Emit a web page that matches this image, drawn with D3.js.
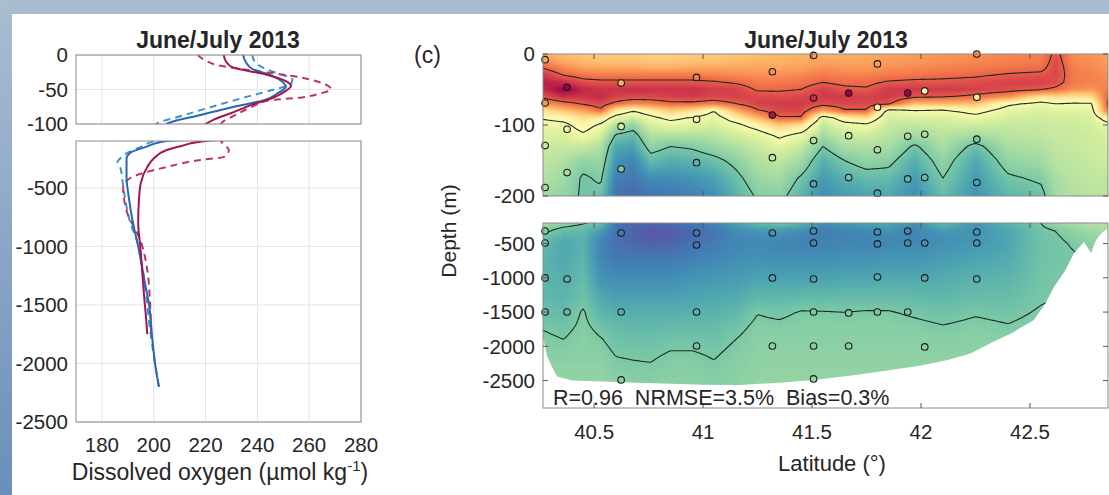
<!DOCTYPE html>
<html>
<head>
<meta charset="utf-8">
<script src="https://cdn.jsdelivr.net/npm/d3@7"></script>
<style>
body{margin:0;background:#fff}
svg{display:block}
text{font-family:"Liberation Sans",Arial,Helvetica,sans-serif;fill:#262626}
</style>
</head>
<body>
<svg id="fig" width="1109" height="495"></svg>
<script>
// ---------- left panel: oxygen profiles (depth in m, O2 in umol/kg)
var blueSolidDepth = [0,-10,-20,-30,-40,-46,-55,-65,-75,-87,-100,-150,-200,-250,-400,-600,-800,-1000,-1300,-1500,-1800,-2000,-2200]
var blueSolidVal   = [234.5,235.5,238,245.5,250,251,248,243,231,218,205,197,191,189.5,189.5,190.5,192,194,196.5,198.2,199.5,200.5,202]

var blueDashDepth = [0,-10,-18,-27,-35,-42,-50,-60,-75,-88,-100,-150,-200,-250,-280,-320,-450,-600,-800,-950,-1100,-1400,-1700,-2000,-2200]
var blueDashVal   = [238,239,242,248,253.5,253,246.5,236.5,222.5,211,201,195,190,187,186,187,188,189,191,193.5,195,197,198.5,200.5,202]

var redSolidDepth = [0,-10,-18,-28,-38,-45,-52,-62,-72,-84,-94,-100,-140,-177,-250,-322,-460,-600,-800,-1000,-1200,-1430,-1600,-1750]
var redSolidVal   = [227,228,230.5,243,251,253,251,246,238,230,223,220,211,205,200,197.5,195,194.3,194,194.8,195.5,196.3,197,197.5]

var redDashDepth = [0,-8,-15,-22,-30,-40,-50,-56,-62,-66,-75,-88,-100,-177,-237,-262,-322,-416,-493,-715,-945,-1200,-1450,-1750]
var redDashVal   = [217,220,225,237,253,264.5,268.5,264,256,244,238,231,226,229,227,218,205,191,188.2,189.8,194.8,197.5,198.5,199]

var o2Ticks = [180,200,220,240,260,280]
var profUpperTicks = [0,-50,-100]
var profLowerTicks = [-500,-1000,-1500,-2000,-2500]

// ---------- right panel: section (one row per latitude, one value per depth level)
var fieldLat = [40.2655,40.36,40.45,40.53,40.60,40.68,40.76,40.85,40.95,41.05,41.15,41.25,41.35,41.45,41.55,41.65,41.75,41.85,41.97,42.10,42.25,42.40,42.55,42.62,42.70,42.78,42.865]

var upperDepth = [0,-10,-20,-30,-40,-50,-60,-70,-80,-90,-100,-115,-130,-150,-175,-200]
var upperField = [
 [238,244,250,257,260,258,252,242,230,221,216,213,211,209,207,205],
 [236,239,244,250,258,264,258,247,235,224,217,213,210,207,205,203],
 [235,237,241,247,253,259,257,251,240,231,225,218,210,203,199,199],
 [234,236,240,246,252,257,258,254,248,228,218,212,207,204,201,198],
 [234,236,240,246,252,257,255,248,228,215,207,199,194,191,188,186],
 [234,236,240,246,252,258,254,244,220,211,203,197,193,189,187,185],
 [233,235,239,246,252,257,254,245,227,217,212,207,203,197,190,186],
 [233,235,239,246,252,257,255,248,234,223,215,207,200,195,190,187],
 [234,236,240,246,252,257,256,248,231,219,214,207,201,196,191,188],
 [234,236,240,245,251,256,254,246,220,215,212,208,204,198,193,190],
 [235,237,240,244,249,255,255,250,238,226,217,211,207,202,198,195],
 [236,238,240,243,246,249,254,255,249,237,225,214,210,207,204,201],
 [237,238,240,243,246,249,253,256,254,249,235,222,214,209,205,202],
 [238,239,241,244,247,250,254,256,254,249,230,216,210,205,199,196],
 [238,240,243,246,250,255,256,253,240,214,209,205,200,195,192,190],
 [239,240,242,245,248,252,256,254,249,226,216,210,206,200,195,192],
 [239,240,242,245,248,251,255,254,249,230,218,211,207,203,197,193],
 [240,241,243,246,251,256,256,252,215,212,210,208,206,202,197,194],
 [241,242,244,247,252,256,252,236,219,213,209,205,199,195,192,190],
 [242,243,245,248,252,256,251,237,218,213,211,208,206,203,200,197],
 [243,244,246,249,253,255,248,236,224,216,211,205,198,194,192,191],
 [244,245,247,251,255,253,243,222,215,212,210,208,206,203,199,196],
 [245,246,248,252,255,251,230,217,213,211,210,209,207,205,201,198],
 [252,253,254,254,253,248,232,220,214,212,211,210,209,208,206,205],
 [243,244,245,246,246,243,230,219,214,212,211,210,210,209,208,207],
 [242,243,244,245,245,242,231,219,215,213,212,211,211,210,209,208],
 [240,241,242,243,244,246,251,254,251,228,216,213,212,211,209,208]
]

var lowerDepth = [-200,-300,-400,-500,-700,-1000,-1300,-1500,-1700,-1900,-2200,-2500,-2900]
var lowerField = [
 [205,202,199,197,196,196,197,198,199.5,201,202,203,203],
 [203,198,195,194,194,195,196,197,198.5,200,202,203,203],
 [200.5,197,196,195.5,196,197,198.5,200.5,201,202,202,203,203],
 [198,193,190,189,189,191,194,196,198.5,200.3,202,203,203],
 [186,186,186,186,187,190,193,195,197,198.5,200.3,202,202],
 [185,184,184,185,187,190,193,195,196.5,198,200,201.5,202],
 [185,182.5,182.5,184,187,190,193,195,196.5,198,199.8,201.5,202],
 [186,183,183,184.5,187,190,193,195,197,198.8,201,202,202],
 [187,185,185,186,188,191,193.5,195.5,197,198.8,201,202,202],
 [189,187,187,187.5,189,191.5,194,195.5,197,198.5,200,201.5,202],
 [193,190,189,189,190,192,194.5,196.5,198.5,200,201.5,202,202],
 [197,192,190,189.5,190.5,193,196.5,199.8,201,202,202.5,203,203],
 [199,192,190,189,190,193,196.5,199,200.8,202,202.5,203,203],
 [196,191,189,188.5,190,193,197,200.3,201.5,202,202.5,203,203],
 [190,188,188,188.5,190,193,197,200.2,201.5,202,202.5,203,203],
 [192,189,188.5,189,190.5,193.5,197.5,200,201.5,202,202.5,203,203],
 [193,190,189,189,190.5,193.5,197.5,200.3,201.5,202,202.5,203,203],
 [194,191,189.5,189.5,191,194,197.5,200.3,201.5,202,202.5,203,203],
 [190,189,189,189.5,191,194,197,199.3,201,202,202.5,203,203],
 [197,192,190.5,190.5,192,194.5,196.5,198.3,200.1,201.5,202.5,203,203],
 [191,191,191,191.5,193,195.5,197.5,199.5,201,202,202.5,203,203],
 [196,194,193.5,193.5,194.5,196,197.5,198.8,200.2,201.5,202.5,203,203],
 [200,199,198.5,198.5,198.5,198.8,199.5,200.5,201.5,202,202.5,203,203],
 [204,200.2,199.5,199,199,199.5,200,201,202,202,202.5,203,203],
 [206,203,201.5,200.5,199.5,200,200.5,201,202,202,202.5,203,203],
 [207,205,203,202,201,201,201,201.5,202,202,202.5,203,203],
 [208,206,204,203,202,202,202,202,202,202,202.5,203,203]
]

var bathyLat   = [40.2655,40.285,40.307,40.33,40.40,40.7,41.0,41.17,41.35,41.507,41.7,41.861,42.0,42.123,42.23,42.32,42.42,42.518,42.57,42.61,42.66,42.702,42.748,42.765,42.78,42.80,42.813,42.835,42.865]
var bathyDepth = [-1870,-2150,-2300,-2440,-2500,-2530,-2560,-2565,-2530,-2490,-2420,-2345,-2280,-2200,-2100,-1950,-1800,-1615,-1380,-1134,-900,-640,-477,-560,-640,-470,-404,-330,-260]

// station: latitude, depth, observed O2
var stations = [
 [40.275,-8,240],[40.275,-69,242],[40.275,-129,211],[40.275,-188,206],
 [40.376,-47,270],[40.376,-106,216],[40.376,-167,206],
 [40.624,-41,238],[40.624,-102,212],[40.624,-162,200],
 [40.97,-33,246],[40.97,-92,218],[40.97,-153,196],
 [41.318,-25,243],[41.318,-86,262],[41.318,-146,210],
 [41.507,-2,240],[41.507,-62,258],[41.507,-122,207],[41.507,-183,194],
 [41.668,-55,265],[41.668,-115,210],[41.668,-174,198],
 [41.80,-14,241],[41.80,-75,226],[41.80,-135,206],[41.80,-196,194],
 [41.939,-55,265],[41.939,-116,206],[41.939,-176,196],
 [42.017,-52,226],[42.017,-113,207],[42.017,-174,197],
 [42.256,0,243],[42.256,-61,228],[42.256,-120,200],[42.256,-181,193],
 [40.275,-317,200],[40.275,-492,198],[40.275,-1002,197],[40.376,-1017,196],[40.275,-1499,198],[40.376,-1499,197],
 [40.624,-346,187],[40.624,-1499,195],[40.624,-2490,202],
 [40.97,-346,186],[40.97,-521,186],[40.97,-1499,195],[40.97,-1995,199],
 [41.318,-346,191],[41.318,-1002,193],[41.318,-1995,202],
 [41.507,-317,190],[41.507,-492,189],[41.507,-1017,193],[41.507,-1499,200],[41.507,-1995,202],[41.507,-2476,203],
 [41.668,-1513,200],[41.668,-1995,202],
 [41.80,-331,190],[41.80,-506,189],[41.80,-988,194],[41.80,-1499,200],
 [41.939,-317,189],[41.939,-492,190],[41.939,-1499,199],
 [42.017,-492,190],[42.017,-1002,194],[42.017,-2009,202],
 [42.256,-331,191],[42.256,-492,191],[42.256,-1017,195]
]

var contourLevels = [200,220,250]
var latTicks = [40.5,41,41.5,42,42.5]
var secUpperTicks = [0,-100,-200]
var secLowerTicks = [-500,-1000,-1500,-2000,-2500]

// ---------- figure
var svg = d3.select("#fig")
var defs = svg.append("defs")
var grad = defs.append("linearGradient").attr("id","side").attr("x1",0).attr("x2",0).attr("y1",0).attr("y2",1)
grad.append("stop").attr("offset",0).attr("stop-color","#aabdd1")
grad.append("stop").attr("offset",1).attr("stop-color","#6a8fbb")
svg.append("rect").attr("width",1109).attr("height",495).attr("fill","#fff")
svg.append("rect").attr("width",1109).attr("height",14).attr("fill","#a8bbcf")
svg.append("rect").attr("width",12).attr("height",495).attr("fill","url(#side)")

function clip(id, x, y, w, h){
    defs.append("clipPath").attr("id",id).append("rect").attr("x",x).attr("y",y).attr("width",w).attr("height",h)
    return "url(#"+id+")"
}

// ---------- left panel
var xO = d3.scaleLinear().domain([170,280]).range([76,361])
var yLU = d3.scaleLinear().domain([0,-100]).range([55,124])
var yLL = d3.scaleLinear().domain([-100,-2500]).range([141,422])

var profiles = [
    {d: blueDashDepth, v: blueDashVal, color:"#3b95c9", dash:"7,5"},
    {d: redDashDepth,  v: redDashVal,  color:"#bf3467", dash:"7,5"},
    {d: blueSolidDepth, v: blueSolidVal, color:"#2a66b3", dash:null},
    {d: redSolidDepth,  v: redSolidVal,  color:"#a0174f", dash:null}
]

function profilePanel(y, ticks, id){
    var g = svg.append("g")
    var r = y.range()
    var cp = clip(id, 76, r[0], 361-76, r[1]-r[0])
    g.selectAll(".gx").data(o2Ticks).enter().append("line")
        .attr("x1", d=>xO(d)).attr("x2", d=>xO(d)).attr("y1", r[0]).attr("y2", r[1])
        .attr("stroke","#e4e4e4")
    g.selectAll(".gy").data(ticks).enter().append("line")
        .attr("x1", 76).attr("x2", 361).attr("y1", d=>y(d)).attr("y2", d=>y(d))
        .attr("stroke","#e4e4e4")
    var lg = g.append("g").attr("clip-path", cp)
    profiles.forEach(function(p){
        var pts = p.d.map((d,i)=>[p.v[i], d])
        var line = d3.line().x(d=>xO(d[0])).y(d=>y(d[1])).curve(d3.curveMonotoneY)
        lg.append("path").attr("d", line(pts)).attr("fill","none")
            .attr("stroke", p.color).attr("stroke-width",2)
            .attr("stroke-dasharray", p.dash)
    })
    g.append("rect").attr("x",76).attr("y",r[0]).attr("width",361-76).attr("height",r[1]-r[0])
        .attr("fill","none").attr("stroke","#8a8a8a")
    g.selectAll(".ty").data(ticks).enter().append("text")
        .attr("x",68).attr("y", d=>y(d)).attr("dy","0.35em").attr("text-anchor","end")
        .attr("font-size",20.5).text(d=>d)
}
profilePanel(yLU, profUpperTicks, "cpLU")
profilePanel(yLL, profLowerTicks, "cpLL")

svg.selectAll(".tx").data(o2Ticks).enter().append("text")
    .attr("x", d=>xO(d)).attr("y", 452).attr("text-anchor","middle")
    .attr("font-size",20.5).text(d=>d)
svg.append("text").attr("x",218).attr("y",48).attr("text-anchor","middle")
    .attr("font-size",23).attr("font-weight","bold").text("June/July 2013")
var xl = svg.append("text").attr("x",220).attr("y",480).attr("text-anchor","middle").attr("font-size",23)
xl.append("tspan").text("Dissolved oxygen (\u00b5mol kg")
xl.append("tspan").attr("dy",-9).attr("font-size",15).text("-1")
xl.append("tspan").attr("dy",9).text(")")

// ---------- right panel
var xLat = d3.scaleLinear().domain([40.2655,42.858]).range([543,1108])
var yRU = d3.scaleLinear().domain([0,-200]).range([54,196])
var yRL = d3.scaleLinear().domain([-200,-2900]).range([223,408])

var vMin = 181, vMax = 264
var lut = d3.range(0,1001).map(k => d3.rgb(d3.interpolateSpectral(1 - k/1000)))
function colorOf(v){
    var k = Math.round(Math.max(0, Math.min(1, (v-vMin)/(vMax-vMin)))*1000)
    return lut[k]
}

function makeSampler(depths, field){
    var nd = depths.map(d => -d)
    return function(lat, depth){
        var i = Math.max(0, Math.min(fieldLat.length-2, d3.bisectRight(fieldLat, lat)-1))
        var tx = Math.max(0, Math.min(1, (lat-fieldLat[i])/(fieldLat[i+1]-fieldLat[i])))
        var j = Math.max(0, Math.min(nd.length-2, d3.bisectRight(nd, -depth)-1))
        var ty = Math.max(0, Math.min(1, (-depth-nd[j])/(nd[j+1]-nd[j])))
        var a = field[i][j], b = field[i+1][j], c = field[i][j+1], e = field[i+1][j+1]
        return (a*(1-tx)+b*tx)*(1-ty) + (c*(1-tx)+e*tx)*ty
    }
}

function sectionPanel(depths, field, y, ticks, id, isLower){
    var g = svg.append("g")
    var x0 = 543, x1 = 1108, y0 = y.range()[0], y1 = y.range()[1]
    var w = x1-x0, h = y1-y0
    var cp = clip(id, x0, y0, w, h)
    var f = makeSampler(depths, field)

    var cv = document.createElement("canvas")
    cv.width = w; cv.height = h
    var ctx = cv.getContext("2d")
    var img = ctx.createImageData(w, h)
    for (let px=0; px<w; px++){
        var lat = xLat.invert(x0+px+0.5)
        for (let py=0; py<h; py++){
            var c = colorOf(f(lat, y.invert(y0+py+0.5)))
            var k = (py*w+px)*4
            img.data[k]=c.r; img.data[k+1]=c.g; img.data[k+2]=c.b; img.data[k+3]=255
        }
    }
    ctx.putImageData(img,0,0)
    g.append("image").attr("x",x0).attr("y",y0).attr("width",w).attr("height",h)
        .attr("preserveAspectRatio","none").attr("href", cv.toDataURL())

    // contour lines from the same field
    var step = 2, nx = Math.ceil(w/step)+1, ny = Math.ceil(h/step)+1
    var vals = new Float64Array(nx*ny)
    for (let j=0; j<ny; j++){
        for (let i=0; i<nx; i++){
            vals[j*nx+i] = f(xLat.invert(x0+i*step), y.invert(y0+j*step))
        }
    }
    var cs = d3.contours().size([nx,ny]).thresholds(contourLevels)(vals)
    var proj = d3.geoTransform({point: function(px,py){ this.stream.point(x0+(px-0.5)*step, y0+(py-0.5)*step) }})
    g.append("g").attr("clip-path",cp).selectAll("path").data(cs).enter().append("path")
        .attr("d", d3.geoPath(proj)).attr("fill","none").attr("stroke","#1f2b20").attr("stroke-width",1.1)

    if (isLower){
        var pts = bathyLat.map((d,i)=>[d, bathyDepth[i]])
        var area = d3.area().x(d=>xLat(d[0])).y0(y1+2).y1(d=>y(d[1]))
        g.append("path").attr("clip-path",cp).attr("d", area(pts)).attr("fill","#fff")
    }

    var lo = y.domain()[1], hi = y.domain()[0]
    g.selectAll("circle").data(stations.filter(s=>s[1]<=hi && s[1]>=lo)).enter().append("circle")
        .attr("cx", d=>xLat(d[0])).attr("cy", d=>y(d[1])).attr("r",3.3)
        .attr("fill", d=>colorOf(d[2]).formatHex()).attr("stroke","#1c1c1c").attr("stroke-width",1.1)

    g.append("rect").attr("x",x0).attr("y",y0).attr("width",w).attr("height",h)
        .attr("fill","none").attr("stroke","#8a8a8a")
    var tk = g.append("g").attr("stroke","#555")
    ticks.forEach(function(t){
        tk.append("line").attr("x1",x0).attr("x2",x0+5).attr("y1",y(t)).attr("y2",y(t))
        tk.append("line").attr("x1",x1-5).attr("x2",x1).attr("y1",y(t)).attr("y2",y(t))
    })
    latTicks.forEach(function(t){
        tk.append("line").attr("x1",xLat(t)).attr("x2",xLat(t)).attr("y1",y1).attr("y2",y1-5)
        tk.append("line").attr("x1",xLat(t)).attr("x2",xLat(t)).attr("y1",y0).attr("y2",y0+5)
    })
    g.selectAll(".ty").data(ticks).enter().append("text")
        .attr("x",535).attr("y", d=>y(d)).attr("dy","0.35em").attr("text-anchor","end")
        .attr("font-size",20.5).text(d=>d)
}
sectionPanel(upperDepth, upperField, yRU, secUpperTicks, "cpRU", false)
sectionPanel(lowerDepth, lowerField, yRL, secLowerTicks, "cpRL", true)

svg.selectAll(".lt").data(latTicks).enter().append("text")
    .attr("x", d=>xLat(d)).attr("y", 439).attr("text-anchor","middle")
    .attr("font-size",20.5).text(d=>d)
svg.append("text").attr("x",826).attr("y",48).attr("text-anchor","middle")
    .attr("font-size",23).attr("font-weight","bold").text("June/July 2013")
svg.append("text").attr("x",414).attr("y",63).attr("font-size",23).text("(c)")
svg.append("text").attr("transform","translate(456,231) rotate(-90)").attr("text-anchor","middle")
    .attr("font-size",21).text("Depth (m)")
svg.append("text").attr("x",832).attr("y",471).attr("text-anchor","middle")
    .attr("font-size",22).text("Latitude (\u00b0)")
svg.append("text").attr("x",553).attr("y",405).attr("font-size",21.5)
    .attr("xml:space","preserve").text("R=0.96  NRMSE=3.5%  Bias=0.3%")
</script>
</body>
</html>
